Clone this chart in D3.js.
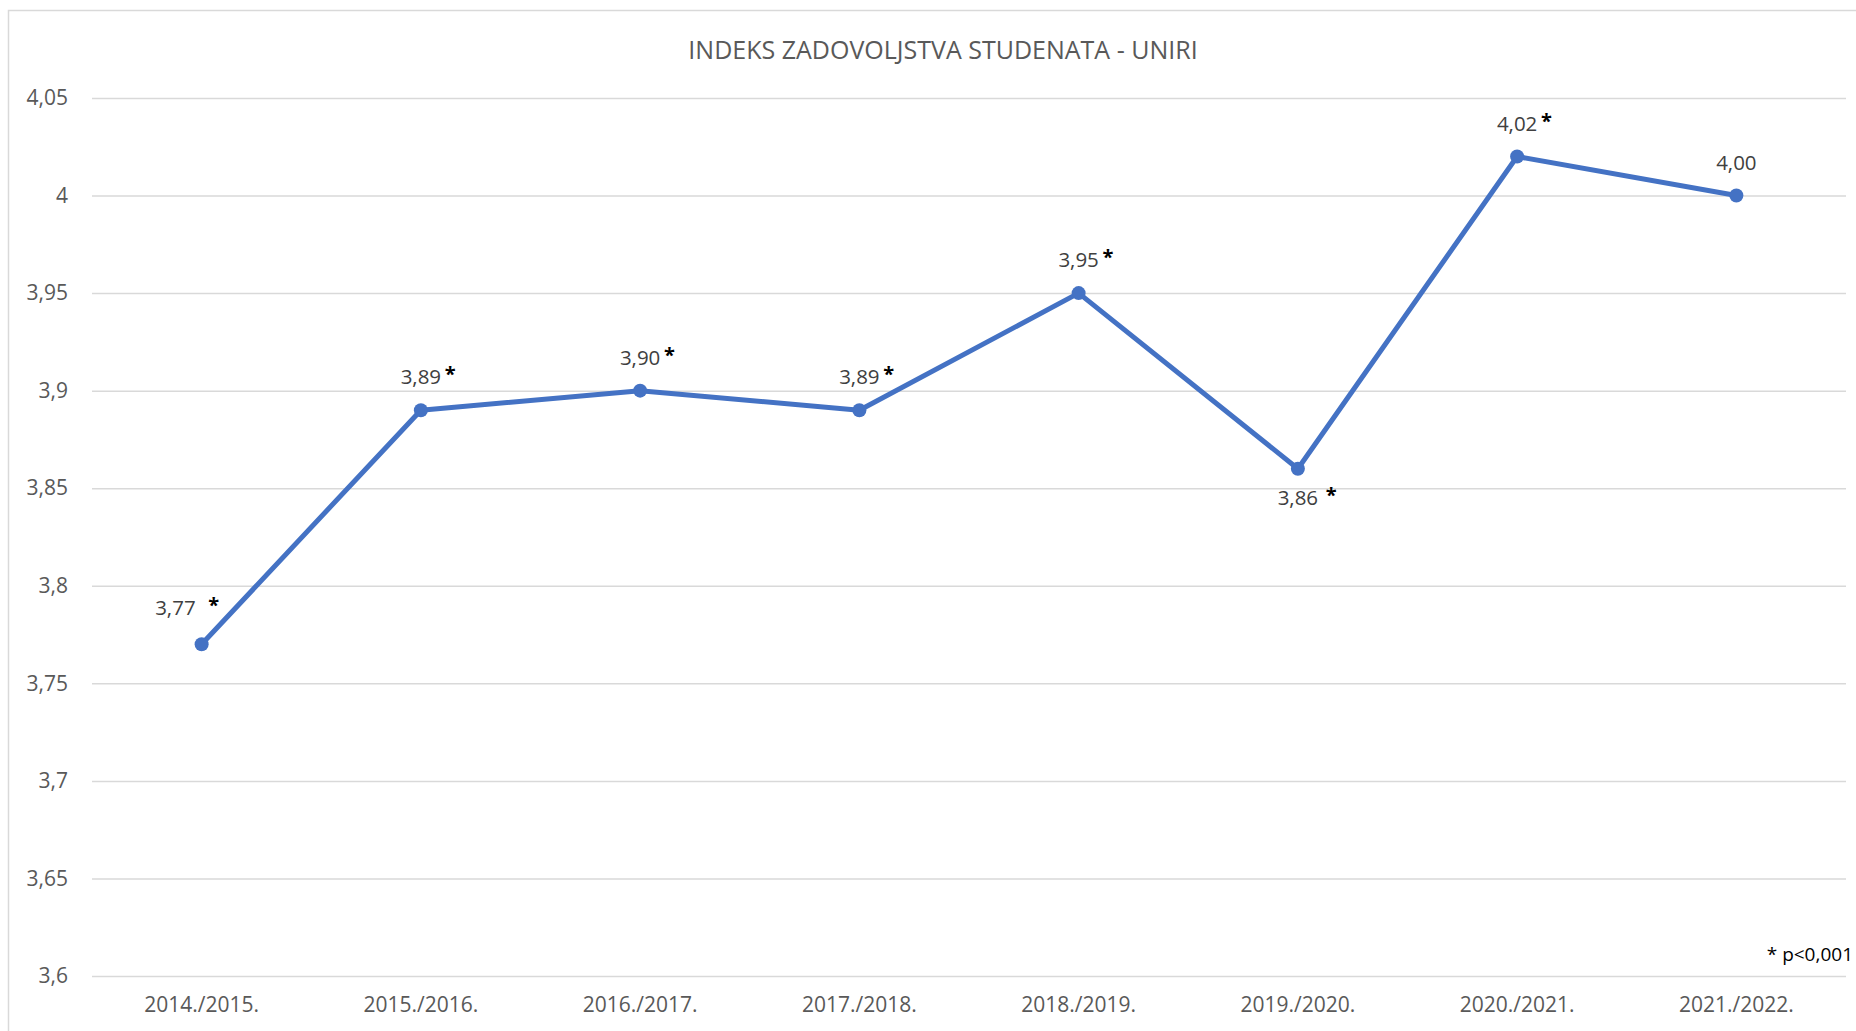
<!DOCTYPE html>
<html>
<head>
<meta charset="utf-8">
<script src="https://cdn.jsdelivr.net/npm/d3@7"></script>
<style>
  body { margin: 0; background: #fff; overflow: hidden; }
  svg { display: block; font-family: "Open Sans", sans-serif; }
</style>
</head>
<body>
<script>
// chart data
const years = ['2014./2015.', '2015./2016.', '2016./2017.', '2017./2018.',
  '2018./2019.', '2019./2020.', '2020./2021.', '2021./2022.']
const index = [3.77, 3.89, 3.90, 3.89, 3.95, 3.86, 4.02, 4.00]
const valueLabels = ['3,77', '3,89', '3,90', '3,89', '3,95', '3,86', '4,02', '4,00']
const significant = [true, true, true, true, true, true, true, false]
const labelPlacement = ['aboveLeft', 'above', 'above', 'above', 'above', 'below', 'above', 'above']
const yTicks = [3.6, 3.65, 3.7, 3.75, 3.8, 3.85, 3.9, 3.95, 4, 4.05]
const yTickLabels = ['3,6', '3,65', '3,7', '3,75', '3,8', '3,85', '3,9', '3,95', '4', '4,05']
const title = 'INDEKS ZADOVOLJSTVA STUDENATA - UNIRI'
const footnote = '* p<0,001'

const W = 1856
const H = 1031
const margin = { top: 98, bottom: 55, left: 92, right: 10 }

const svg = d3.select('body')
  .append('svg')
  .attr('width', W)
  .attr('height', H)

// chart frame (runs past the right and bottom edges)
svg.append('rect')
  .attr('x', 8.5)
  .attr('y', 10.5)
  .attr('width', 1870)
  .attr('height', 1040)
  .attr('fill', 'none')
  .attr('stroke', '#d9d9d9')
  .attr('stroke-width', 1.5)

const x = d3.scaleBand()
  .domain(years)
  .range([margin.left, W - margin.right])

const y = d3.scaleLinear()
  .domain([3.6, 4.05])
  .range([H - margin.bottom, margin.top])

// title
svg.append('text')
  .attr('x', 943)
  .attr('y', 50)
  .attr('dy', '0.35em')
  .attr('text-anchor', 'middle')
  .attr('fill', '#595959')
  .style('font-size', '25px')
  .text(title)

// y axis with gridlines
const yAxis = d3.axisLeft(y)
  .tickValues(yTicks)
  .tickSize(-(W - margin.right - margin.left))
  .tickPadding(24)
  .tickFormat((d, i) => yTickLabels[i])

const yG = svg.append('g')
  .attr('transform', `translate(${margin.left},0)`)
  .call(yAxis)
yG.select('.domain').remove()
yG.selectAll('line')
  .attr('stroke', '#d9d9d9')
  .attr('stroke-width', 1.5)
yG.selectAll('text')
  .attr('fill', '#595959')
  .style('font-size', '21px')
  .style('font-family', '"Open Sans", sans-serif')

// x axis labels
const xAxis = d3.axisBottom(x)
  .tickSize(0)
  .tickPadding(21)

const xG = svg.append('g')
  .attr('transform', `translate(0,${y(3.6)})`)
  .call(xAxis)
xG.select('.domain').remove()
xG.selectAll('text')
  .attr('fill', '#595959')
  .style('font-size', '21px')
  .style('font-family', '"Open Sans", sans-serif')

// line
const line = d3.line()
  .x((d, i) => x(years[i]) + x.bandwidth() / 2)
  .y(d => y(d))

svg.append('path')
  .datum(index)
  .attr('d', line)
  .attr('fill', 'none')
  .attr('stroke', '#4472c4')
  .attr('stroke-width', 5)
  .attr('stroke-linejoin', 'round')

svg.selectAll('circle.pt')
  .data(index)
  .enter()
  .append('circle')
  .attr('class', 'pt')
  .attr('cx', (d, i) => x(years[i]) + x.bandwidth() / 2)
  .attr('cy', d => y(d))
  .attr('r', 7)
  .attr('fill', '#4472c4')

// data labels
svg.selectAll('g.lbl')
  .data(index)
  .enter()
  .append('g')
  .attr('class', 'lbl')
  .each(function(d, i) {
    const g = d3.select(this)
    const px = x(years[i]) + x.bandwidth() / 2
    const py = y(d)
    const place = labelPlacement[i]
    let ly = py - 33
    if (place === 'below') ly = py + 29
    if (place === 'aboveLeft') ly = py - 36

    const t = g.append('text')
      .attr('y', ly)
      .attr('dy', '0.35em')
      .attr('fill', '#404040')
      .style('font-size', '20.5px')
      .text(valueLabels[i])

    let starX
    if (place === 'aboveLeft') {
      t.attr('x', px - 6).attr('text-anchor', 'end')
      starX = px + 12
    } else {
      t.attr('x', px).attr('text-anchor', 'middle')
      const half = t.node().getComputedTextLength() / 2
      starX = px + half + (place === 'below' ? 13 : 9)
    }

    if (significant[i]) {
      g.append('text')
        .attr('x', starX)
        .attr('y', ly - 3)
        .attr('dy', '0.35em')
        .attr('text-anchor', 'middle')
        .attr('fill', '#000')
        .style('font-size', '20px')
        .style('font-weight', 'bold')
        .text('*')
    }
  })

// footnote
svg.append('text')
  .attr('x', 1853)
  .attr('y', 954)
  .attr('dy', '0.35em')
  .attr('text-anchor', 'end')
  .attr('fill', '#000')
  .style('font-size', '19px')
  .text(footnote)
</script>
</body>
</html>
